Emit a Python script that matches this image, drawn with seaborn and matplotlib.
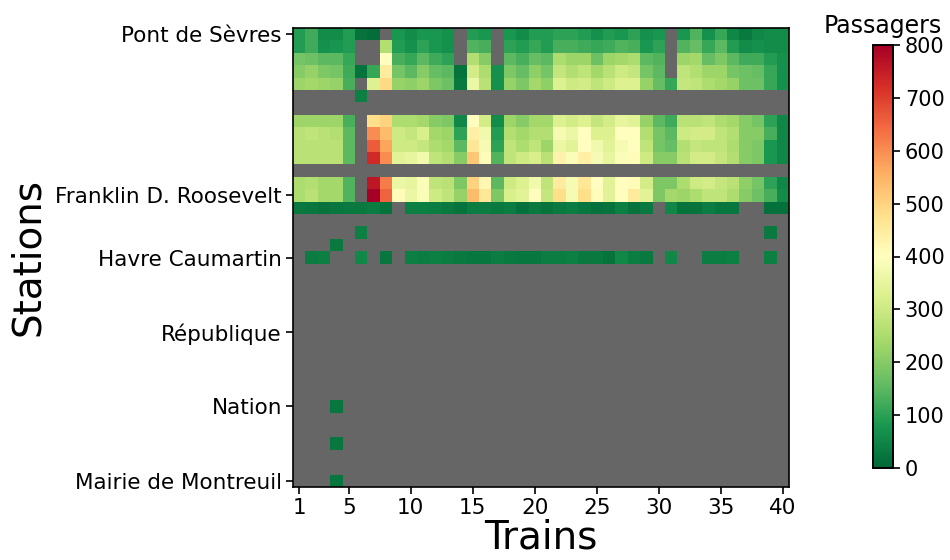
import numpy as np
import pandas as pd
import matplotlib
matplotlib.use('Agg')
import matplotlib.pyplot as plt
import seaborn as sns

N = np.nan

# Trains 1..40
trains = list(range(1, 41))

# Passengers per station (rows) and train (columns)
row_00 = [90, 120, 60, 60, 90, 20, 10, N, 80, 60, 80, 80, 70, N, 90, 80, N, 80, 60, 90,
          90, 100, 100, 90, 70, 90, 80, 100, 70, 80, N, 80, 140, 70, 110, 50, 30, 50, 60, 60]
row_01 = [90, 120, 70, 75, 90, N, N, 260, 90, 70, 100, 80, 70, N, 140, 130, N, 100, 90, 110,
          90, 130, 130, 120, 110, 120, 140, 130, 80, 100, N, 140, 160, 110, 150, 90, 60, 70, 60, 60]
row_02 = [180, 170, 150, 150, 110, N, N, 400, 130, 110, 150, 120, 100, N, 260, 200, N, 150, 130, 160,
          150, 250, 230, 230, 170, 230, 240, 250, 150, 140, N, 230, 240, 160, 190, 150, 120, 120, 90, 70]
row_03 = [200, 220, 190, 180, 120, 20, 110, 450, 180, 150, 200, 160, 150, 20, 310, 250, 70, 190, 160, 210,
          180, 290, 260, 280, 240, 270, 300, 290, 180, 150, N, 280, 260, 230, 230, 180, 170, 160, 110, 70]
row_04 = [230, 240, 230, 220, 130, N, 330, 490, 220, 210, 230, 190, 170, 30, 360, 270, 70, 220, 190, 240,
          210, 330, 300, 310, 280, 300, 330, 330, 220, 160, 110, 290, 280, 250, 240, 220, 170, 170, 110, 70]
row_05 = [N] * 5 + [40] + [N] * 34
row_07 = [230, 230, 230, 230, 130, N, 480, 500, 250, 250, 240, 200, 190, 50, 400, 310, 60, 230, 200, 240,
          240, 330, 310, 330, 290, 310, 350, 340, 220, 150, 120, 270, 270, 280, 250, 240, 200, 180, 100, 50]
row_08 = [270, 280, 270, 260, 150, N, 600, 540, 300, 290, 320, 240, 230, 100, 440, 370, 90, 260, 240, 260,
          260, 380, 360, 400, 330, 330, 400, 400, 260, 180, 150, 300, 310, 310, 280, 260, 200, 200, 130, 50]
row_09 = [270, 270, 270, 270, 150, N, 660, 570, 300, 300, 290, 250, 240, 150, 460, 380, 100, 280, 250, 280,
          230, 360, 340, 400, 370, 340, 380, 400, 280, 180, 160, 260, 290, 280, 280, 250, 200, 190, 80, 50]
row_10 = [270, 270, 270, 270, 150, N, 730, 600, 340, 350, 370, 280, 260, 200, 520, 410, 140, 280, 300, 320,
          270, 430, 390, 440, 380, 350, 390, 410, 300, 200, 200, 270, 310, 310, 290, 260, 200, 190, 80, 50]
row_12 = [250, 260, 240, 240, 140, N, 760, 620, 360, 350, 390, 280, 270, 190, 500, 420, 150, 300, 330, 370,
          280, 450, 380, 460, 400, 340, 400, 410, 310, 190, 190, 250, 300, 310, 290, 270, 210, 180, 100, 50]
row_13 = [250, 270, 240, 240, 140, N, 800, 650, 410, 360, 390, 300, 280, 220, 540, 460, 190, 320, 340, 400,
          290, 480, 380, 480, 410, 340, 400, 450, 340, 190, 240, 230, 250, 280, 280, 250, 200, 170, 130, 60]
row_14 = [30, 25, 20, 25, 30, 30, 35, 20, N, 40, 40, 35, 30, 20, 35, 35, 30, 35, 15, 30,
          20, 30, 35, 25, 15, 20, 40, 20, 30, N, 50, 20, 20, 35, 25, 25, N, N, 15, 15]
row_16 = [N] * 5 + [40] + [N] * 32 + [30, N]
row_17 = [N] * 3 + [30] + [N] * 36
row_18 = [N, 35, 40, N, N, 55, N, 25, N, 40, 35, 40, 35, 30, 25, 25, 35, 30, 25, 25,
          35, 35, 40, 30, 30, 20, 55, 35, 30, N, 55, N, N, 35, 35, 40, N, N, 40, N]
row_30 = [N] * 3 + [25] + [N] * 36
row_33 = [N] * 3 + [25] + [N] * 36
row_36 = [N] * 3 + [25] + [N] * 36

empty = [N] * 40
rows = [row_00, row_01, row_02, row_03, row_04, row_05, empty, row_07, row_08, row_09,
        row_10, empty, row_12, row_13, row_14, empty, row_16, row_17, row_18]
rows += [empty] * 11 + [row_30, empty, empty, row_33, empty, empty, row_36]

station_labels = ['Pont de Sèvres', 'Franklin D. Roosevelt', 'Havre Caumartin',
                  'République', 'Nation', 'Mairie de Montreuil']
station_rows = [0, 13, 18, 24, 30, 36]
train_ticks = [1, 5, 10, 15, 20, 25, 30, 35, 40]

df = pd.DataFrame(rows, columns=trains)

fig = plt.figure(figsize=(9.5, 5.6), dpi=100)
ax = fig.add_axes([293 / 950, 1 - 487 / 560, 496 / 950, 459 / 560])
cax = fig.add_axes([873 / 950, 1 - 468 / 560, 20 / 950, 423 / 560])

ax.set_facecolor('#666666')  # missing values show as grey
sns.heatmap(df, cmap='RdYlGn_r', vmin=0, vmax=800, ax=ax, cbar_ax=cax,
            linewidths=0, xticklabels=False, yticklabels=False)

ax.set_xticks([t - 0.5 for t in train_ticks])
ax.set_xticklabels(train_ticks, fontsize=15.5, rotation=0)
ax.set_yticks([r + 0.5 for r in station_rows])
ax.set_yticklabels(station_labels, fontsize=15.5, rotation=0)
ax.tick_params(length=5, width=1.2, color='black', pad=3)
for s in ax.spines.values():
    s.set_visible(True)
    s.set_linewidth(1.2)
    s.set_color('black')
ax.set_xlabel('Trains', fontsize=28, labelpad=0)
ax.set_ylabel('Stations', fontsize=28, labelpad=6)

cax.set_yticks([0, 100, 200, 300, 400, 500, 600, 700, 800])
cax.tick_params(labelsize=15, length=5, width=1.2)
cax.set_title('Passagers', fontsize=17, pad=9)
for s in cax.spines.values():
    s.set_visible(True)
    s.set_linewidth(1.2)

fig.savefig('out.png', dpi=100)
